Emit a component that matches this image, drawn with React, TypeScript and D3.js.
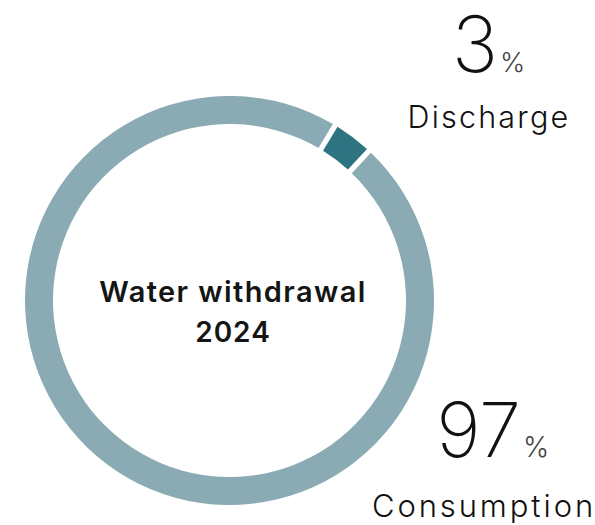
import React from "react";
import * as d3 from "d3";

const categories = ["Consumption", "Discharge"];
const values = [97, 3];
const colors = ["#8aabb4", "#2e7381"];
const centerTitle = ["Water withdrawal", "2024"];

const W = 595;
const H = 525;
const cx = 229.5;
const cy = 300.5;
const outerR = 204.5;
const innerR = 176.5;
const startDeg = 43;

export default function App() {
  const pie = d3
    .pie<number>()
    .sort(null)
    .startAngle((startDeg * Math.PI) / 180)
    .endAngle(((startDeg + 360) * Math.PI) / 180)
    .padAngle(0.02);
  const arcs = pie(values);
  const arc = d3.arc<d3.PieArcDatum<number>>().innerRadius(innerR).outerRadius(outerR);
  const font = "Inter, 'Open Sans', sans-serif";

  return (
    <svg
      width={W}
      height={H}
      style={{ position: "absolute", left: 0, top: 0, background: "#fff" }}
      fontFamily={font}
    >
      <g transform={`translate(${cx},${cy})`}>
        {arcs.map((a, i) => (
          <path key={categories[i]} d={arc(a) || ""} fill={colors[i]} />
        ))}
      </g>
      <text x={233} y={302} textAnchor="middle" fontSize={29} fontWeight={600} letterSpacing={1.4} fill="#151515">
        {centerTitle[0]}
      </text>
      <text x={233} y={342} textAnchor="middle" fontSize={28} fontWeight={600} letterSpacing={1} fill="#151515">
        {centerTitle[1]}
      </text>

      <text x={498} y={72} textAnchor="end" fontSize={78} fontWeight={200} fill="#111">
        {values[1]}
      </text>
      <text x={500} y={72} fontSize={27} fontWeight={300} fill="#444">%</text>
      <text x={489} y={128} textAnchor="middle" fontSize={30.5} fontWeight={300} letterSpacing={2.2} fill="#111">
        {categories[1]}
      </text>

      <text x={521} y={457} textAnchor="end" fontSize={76} fontWeight={200} fill="#111">
        {values[0]}
      </text>
      <text x={523} y={457} fontSize={28} fontWeight={300} fill="#444">%</text>
      <text x={484} y={517} textAnchor="middle" fontSize={31} fontWeight={300} letterSpacing={2.9} fill="#111">
        {categories[0]}
      </text>
    </svg>
  );
}
